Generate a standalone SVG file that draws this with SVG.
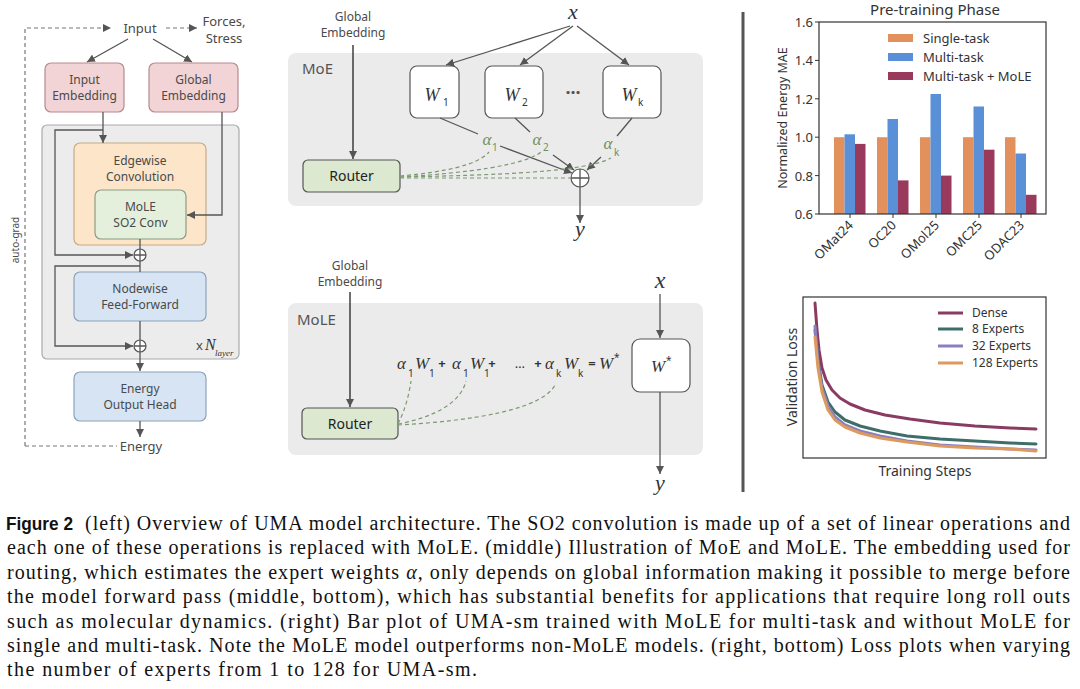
<svg xmlns="http://www.w3.org/2000/svg" width="1080" height="689" viewBox="0 0 1080 689">
<defs>
<marker id="ah" viewBox="0 0 10 10" refX="10" refY="5" markerWidth="8" markerHeight="8" markerUnits="userSpaceOnUse" orient="auto"><path d="M0,0 L10,5 L0,10 z" fill="#555"/></marker>
<style>
.lbl{font-family:"Noto Sans","Open Sans",sans-serif;font-size:12px;fill:#4a4a4a;text-anchor:middle}
.sm{font-family:"Noto Sans","Open Sans",sans-serif;font-size:13px;fill:#4a4a4a;text-anchor:middle}
.ln{fill:none;stroke:#555;stroke-width:1.3}
.ar{fill:none;stroke:#555;stroke-width:1.3;marker-end:url(#ah)}
.dsh{fill:none;stroke:#777;stroke-width:1.2;stroke-dasharray:4 3}
.gd{fill:none;stroke:#7c9a72;stroke-width:1.2;stroke-dasharray:4 3}
.math{font-family:"Liberation Serif",serif;font-style:italic;fill:#333}
.sub{font-family:"Noto Sans","Open Sans",sans-serif;font-size:10px;fill:#333}
.grn{fill:#6f8f5f}
.panel{fill:#ebebeb}
.wbox{fill:#fff;stroke:#555;stroke-width:1.2}
.router{fill:#dce9d0;stroke:#555;stroke-width:1.2}
.rt{font-family:"Noto Sans","Open Sans",sans-serif;font-size:14px;fill:#222;text-anchor:middle}
.ax{font-family:"Noto Sans","Open Sans",sans-serif;font-size:13px;fill:#333}
.cap{font-family:"Liberation Serif",serif;font-size:20px;fill:#111}
.circ{fill:#fff;stroke:#555;stroke-width:1.2}
</style>
</defs>

<!-- LEFT PANEL -->
<g id="left-panel">
  <g id="container"><rect x="42" y="125" width="197" height="234" rx="5" fill="#ececec" stroke="#aaa" stroke-width="1.2"/>
    <text x="196" y="350" class="sm" style="text-anchor:start">x</text>
    <text x="205" y="350" class="math" font-size="16">N</text>
    <text x="215" y="356" class="math" font-size="9">layer</text>
  </g>
  <g id="input"><text x="140" y="33" class="sm">Input</text></g>
  <g id="forces"><text x="224" y="26" class="sm">Forces,</text><text x="224" y="43" class="sm">Stress</text></g>
  <g id="input-embedding"><rect x="45" y="63" width="79" height="49" rx="6" fill="#f2d4d6" stroke="#b58a8e" stroke-width="1.2"/>
    <text x="84.5" y="84" class="lbl">Input</text><text x="84.5" y="100" class="lbl">Embedding</text></g>
  <g id="global-embedding"><rect x="149" y="63" width="89" height="49" rx="6" fill="#f2d4d6" stroke="#b58a8e" stroke-width="1.2"/>
    <text x="193.5" y="84" class="lbl">Global</text><text x="193.5" y="100" class="lbl">Embedding</text></g>
  <g id="edgewise"><rect x="74" y="143" width="132" height="102" rx="6" fill="#fce5c8" stroke="#c9ab86" stroke-width="1.2"/>
    <text x="140" y="165" class="lbl">Edgewise</text><text x="140" y="181" class="lbl">Convolution</text></g>
  <g id="mole-so2"><rect x="95" y="190" width="91" height="49" rx="6" fill="#e4f0dc" stroke="#8c9c84" stroke-width="1.2"/>
    <text x="140.5" y="211" class="lbl">MoLE</text><text x="140.5" y="227" class="lbl">SO2 Conv</text></g>
  <g id="nodewise"><rect x="74" y="272" width="132" height="49" rx="6" fill="#d6e4f3" stroke="#8da2b8" stroke-width="1.2"/>
    <text x="140" y="293" class="lbl">Nodewise</text><text x="140" y="309" class="lbl">Feed-Forward</text></g>
  <g id="energy-head"><rect x="74" y="372" width="132" height="49" rx="6" fill="#d6e4f3" stroke="#8da2b8" stroke-width="1.2"/>
    <text x="140" y="393" class="lbl">Energy</text><text x="140" y="409" class="lbl">Output Head</text></g>
  <g id="energy"><text x="141" y="451" class="sm">Energy</text></g>
  <g id="autograd"><text transform="translate(19,240) rotate(-90)" class="lbl" style="font-size:10px">auto-grad</text></g>
  <g id="sum1"><circle cx="140" cy="255" r="6" class="circ"/><path d="M134,255 H146 M140,249 V261" class="ln"/></g>
  <g id="sum2"><circle cx="140" cy="346" r="6" class="circ"/><path d="M134,346 H146 M140,340 V352" class="ln"/></g>
</g>

<g id="left-connectors">
  <path d="M25,446 V28 H111" class="dsh" marker-end="url(#ah)"/>
  <path d="M166,28 H197" class="dsh" marker-end="url(#ah)"/>
  <path d="M25,446 H117" class="dsh"/>
  <path d="M128,39 L87,62" class="ar"/>
  <path d="M153,39 L192,62" class="ar"/>
  <path d="M103,112 V143" class="ar"/>
  <path d="M103,130 H55 V255 H133" class="ar"/>
  <path d="M222,112 V215 H187" class="ar"/>
  <path d="M140,239 V249" class="ln"/>
  <path d="M140,261 V272" class="ln"/>
  <path d="M140,266 H55 V346 H133" class="ar"/>
  <path d="M140,321 V340" class="ln"/>
  <path d="M140,352 V371" class="ar"/>
  <path d="M140,421 V437" class="ar"/>
</g>

<!-- MIDDLE TOP: MoE -->
<g id="moe-panel"><rect x="288" y="53" width="415" height="153" rx="8" class="panel"/>
  <text x="302" y="74" style="font-family:'Noto Sans','Open Sans',sans-serif;font-size:15px;fill:#555">MoE</text></g>
<g id="moe-global"><text x="353" y="21" class="lbl">Global</text><text x="353" y="37" class="lbl">Embedding</text></g>
<g id="moe-router"><rect x="303" y="160" width="97" height="32" rx="5" class="router"/><text x="351.5" y="181" class="rt">Router</text></g>
<g id="moe-x"><text x="573" y="19" class="math" font-size="22" text-anchor="middle">x</text></g>
<g id="w1"><rect x="410" y="66" width="49" height="52" rx="7" class="wbox"/><text x="432" y="101" class="math" font-size="18" text-anchor="middle">W</text><text x="443" y="106" class="sub">1</text></g>
<g id="w2"><rect x="485" y="66" width="58" height="52" rx="7" class="wbox"/><text x="512" y="101" class="math" font-size="18" text-anchor="middle">W</text><text x="522" y="106" class="sub">2</text></g>
<g id="dots"><text x="573" y="99" style="font-family:'Noto Sans',sans-serif;font-size:18px;font-weight:bold;fill:#555;text-anchor:middle">···</text></g>
<g id="wk"><rect x="603" y="66" width="58" height="52" rx="7" class="wbox"/><text x="629" y="101" class="math" font-size="18" text-anchor="middle">W</text><text x="638" y="106" class="sub">k</text></g>
<g id="moe-sum"><circle cx="580" cy="178" r="9" class="circ"/><path d="M571,178 H589 M580,169 V187" class="ln"/></g>
<g id="moe-y"><text x="580" y="236" class="math" font-size="22" text-anchor="middle">y</text></g>
<g id="alphas">
  <text x="487" y="145" class="math grn" font-size="17" text-anchor="middle">α</text><text x="492" y="151" class="sub grn">1</text>
  <text x="537" y="145" class="math grn" font-size="17" text-anchor="middle">α</text><text x="543" y="151" class="sub grn">2</text>
  <text x="608" y="149" class="math grn" font-size="17" text-anchor="middle">α</text><text x="614" y="156" class="sub grn">k</text>
</g>
<g id="moe-connectors">
  <path d="M353,45 V159" class="ar" style="stroke:#222"/>
  <path d="M570,26 L446,65" class="ar"/>
  <path d="M573,26 L520,65" class="ar"/>
  <path d="M577,26 L629,65" class="ar"/>
  <path d="M440,118 L478,134" class="ln"/>
  <path d="M500,146 L572,173" class="ar"/>
  <path d="M515,118 L530,132" class="ln"/>
  <path d="M553,155 L574,170" class="ar"/>
  <path d="M632,118 L617,136" class="ln"/>
  <path d="M601,157 L587,170" class="ar"/>
  <path d="M400,176 C445,172 478,165 489,152" class="gd"/>
  <path d="M400,177 C468,173 525,165 541,152" class="gd"/>
  <path d="M400,177 C500,175 585,172 611,158" class="gd"/>
  <path d="M400,178 L570,178" class="gd"/>
  <path d="M580,187 V223" class="ar"/>
</g>

<!-- MIDDLE BOTTOM: MoLE -->
<g id="mole-panel"><rect x="288" y="303" width="415" height="152" rx="8" class="panel"/>
  <text x="297" y="325" style="font-family:'Noto Sans','Open Sans',sans-serif;font-size:15px;fill:#555">MoLE</text></g>
<g id="mole-global"><text x="350" y="270" class="lbl">Global</text><text x="350" y="286" class="lbl">Embedding</text></g>
<g id="mole-router"><rect x="302" y="408" width="96" height="31" rx="5" class="router"/><text x="350" y="429" class="rt">Router</text></g>
<g id="formula">
  <text x="397" y="369" class="math" font-size="17">α</text><text x="408" y="377" class="sub">1</text>
  <text x="415" y="369" class="math" font-size="17">W</text><text x="429" y="377" class="sub">1</text>
  <text x="442" y="368" class="sm" style="fill:#333;font-weight:bold">+</text>
  <text x="452" y="369" class="math" font-size="17">α</text><text x="463" y="377" class="sub">1</text>
  <text x="470" y="369" class="math" font-size="17">W</text><text x="484" y="377" class="sub">1</text>
  <text x="492" y="368" class="sm" style="fill:#333;font-weight:bold">+</text>
  <text x="520" y="368" class="sm" style="fill:#333">…</text>
  <text x="538" y="368" class="sm" style="fill:#333;font-weight:bold">+</text>
  <text x="545" y="369" class="math" font-size="17">α</text><text x="556" y="377" class="sub">k</text>
  <text x="564" y="369" class="math" font-size="17">W</text><text x="578" y="377" class="sub">k</text>
  <text x="592" y="368" class="sm" style="fill:#333;font-weight:bold">=</text>
  <text x="599" y="369" class="math" font-size="17">W</text><text x="614" y="361" class="sub">*</text>
</g>
<g id="wstar"><rect x="632" y="339" width="58" height="53" rx="8" class="wbox"/><text x="658" y="372" class="math" font-size="17" text-anchor="middle">W</text><text x="666" y="364" class="sub">*</text></g>
<g id="mole-x"><text x="660" y="288" class="math" font-size="24" text-anchor="middle">x</text></g>
<g id="mole-y"><text x="660" y="490" class="math" font-size="22" text-anchor="middle">y</text></g>
<g id="mole-connectors">
  <path d="M350,292 V407" class="ar" style="stroke:#222"/>
  <path d="M660,294 V338" class="ar"/>
  <path d="M660,392 V474" class="ar"/>
  <path d="M398,424 C405,410 409,395 411,381" class="gd"/>
  <path d="M398,424 C430,418 460,405 466,381" class="gd"/>
  <path d="M398,425 C470,421 545,410 556,383" class="gd"/>
</g>

<!-- separator -->
<g id="separator"><line x1="743" y1="12" x2="743" y2="492" stroke="#555" stroke-width="3"/></g>

<!-- BAR CHART -->
<g id="bar-chart">
  <text x="935" y="15" class="ax" style="font-size:15px;text-anchor:middle">Pre-training Phase</text>
  <g id="bars">
    <rect x="834" y="137.2" width="10.5" height="76.8" fill="#e3915c"/>
    <rect x="844.5" y="134.3" width="10.5" height="79.7" fill="#5a90d8"/>
    <rect x="855" y="143.9" width="10.5" height="70.1" fill="#993a5c"/>
    <rect x="877" y="137.2" width="10.5" height="76.8" fill="#e3915c"/>
    <rect x="887.5" y="119" width="10.5" height="95" fill="#5a90d8"/>
    <rect x="898" y="180.4" width="10.5" height="33.6" fill="#993a5c"/>
    <rect x="920" y="137.2" width="10.5" height="76.8" fill="#e3915c"/>
    <rect x="930.5" y="94" width="10.5" height="120" fill="#5a90d8"/>
    <rect x="941" y="175.6" width="10.5" height="38.4" fill="#993a5c"/>
    <rect x="963" y="137.2" width="10.5" height="76.8" fill="#e3915c"/>
    <rect x="973.5" y="106.5" width="10.5" height="107.5" fill="#5a90d8"/>
    <rect x="984" y="149.7" width="10.5" height="64.3" fill="#993a5c"/>
    <rect x="1005" y="137.2" width="10.5" height="76.8" fill="#e3915c"/>
    <rect x="1015.5" y="153.5" width="10.5" height="60.5" fill="#5a90d8"/>
    <rect x="1026" y="194.8" width="10.5" height="19.2" fill="#993a5c"/>
  </g>
  <rect x="819" y="22" width="227" height="192" fill="none" stroke="#333" stroke-width="1.2"/>
  <path d="M815,22 H819 M815,60.4 H819 M815,98.8 H819 M815,137.2 H819 M815,175.6 H819 M815,214 H819 M850,214 V218 M893,214 V218 M936,214 V218 M979,214 V218 M1021,214 V218" stroke="#333" stroke-width="1"/>
  <g class="ax" style="text-anchor:end">
    <text x="813" y="27">1.6</text><text x="813" y="65">1.4</text><text x="813" y="104">1.2</text>
    <text x="813" y="142">1.0</text><text x="813" y="181">0.8</text><text x="813" y="219">0.6</text>
  </g>
  <text transform="translate(787,118) rotate(-90)" class="ax" style="font-size:12.5px;text-anchor:middle">Normalized Energy MAE</text>
  <g class="ax" style="text-anchor:end">
    <text transform="translate(854,226) rotate(-45)">OMat24</text>
    <text transform="translate(897,226) rotate(-45)">OC20</text>
    <text transform="translate(940,226) rotate(-45)">OMol25</text>
    <text transform="translate(983,226) rotate(-45)">OMC25</text>
    <text transform="translate(1025,226) rotate(-45)">ODAC23</text>
  </g>
  <g id="bar-legend">
    <rect x="888" y="34" width="25" height="8" fill="#e3915c"/><text x="923" y="43" class="ax">Single-task</text>
    <rect x="888" y="53" width="25" height="8" fill="#5a90d8"/><text x="923" y="62" class="ax">Multi-task</text>
    <rect x="888" y="72" width="25" height="8" fill="#993a5c"/><text x="923" y="81" class="ax">Multi-task + MoLE</text>
  </g>
</g>

<!-- LINE CHART -->
<g id="line-chart">
  <g fill="none" stroke-width="3" stroke-linejoin="round" stroke-linecap="round">
    <polyline stroke="#8a3b62" points="815,303 817,330 819,350 822,368 826,380 832,390 840,398 850,404 865,410 885,415 910,419 940,423 975,426 1010,428 1036,429"/>
    <polyline stroke="#3e6e6a" points="815,330 818,360 822,385 828,402 835,412 845,420 860,426 880,431 907,436 940,439 975,441 1010,443 1036,444"/>
    <polyline stroke="#8b7fc0" points="815,326 818,362 822,388 828,406 835,417 845,425 860,431 880,436 907,441 940,445 975,447 1010,449 1036,450"/>
    <polyline stroke="#dd9a5e" points="815,337 818,368 822,392 828,410 835,420 845,427 860,433 880,438 907,442 940,446 975,448 1010,449 1036,451"/>
  </g>
  <rect x="803" y="297" width="243" height="161" fill="none" stroke="#333" stroke-width="1.2"/>
  <text transform="translate(797,377) rotate(-90)" class="ax" style="font-size:14px;text-anchor:middle">Validation Loss</text>
  <text x="925" y="476" class="ax" style="font-size:14px;text-anchor:middle">Training Steps</text>
  <g id="line-legend" stroke-width="3">
    <line x1="938" y1="313" x2="963" y2="313" stroke="#8a3b62"/><text x="972" y="317" class="ax" style="font-size:12px">Dense</text>
    <line x1="938" y1="329" x2="963" y2="329" stroke="#3e6e6a"/><text x="972" y="333" class="ax" style="font-size:12px">8 Experts</text>
    <line x1="938" y1="346" x2="963" y2="346" stroke="#8b7fc0"/><text x="972" y="350" class="ax" style="font-size:12px">32 Experts</text>
    <line x1="938" y1="363" x2="963" y2="363" stroke="#dd9a5e"/><text x="972" y="367" class="ax" style="font-size:12px">128 Experts</text>
  </g>
</g>

<!-- CAPTION -->
<g id="caption">
  <text x="6" y="530" style="font-family:'Liberation Sans',sans-serif;font-weight:bold;font-size:17.5px;fill:#111" textLength="67" lengthAdjust="spacingAndGlyphs">Figure 2</text>
  <text x="85" y="530" class="cap" textLength="985" lengthAdjust="spacing">(left) Overview of UMA model architecture. The SO2 convolution is made up of a set of linear operations and</text>
  <text x="7" y="554" class="cap" textLength="1063" lengthAdjust="spacing">each one of these operations is replaced with MoLE. (middle) Illustration of MoE and MoLE. The embedding used for</text>
  <text x="7" y="579" class="cap" textLength="1063" lengthAdjust="spacing">routing, which estimates the expert weights <tspan font-style="italic">α</tspan>, only depends on global information making it possible to merge before</text>
  <text x="7" y="603" class="cap" textLength="1063" lengthAdjust="spacing">the model forward pass (middle, bottom), which has substantial benefits for applications that require long roll outs</text>
  <text x="7" y="628" class="cap" textLength="1063" lengthAdjust="spacing">such as molecular dynamics. (right) Bar plot of UMA-sm trained with MoLE for multi-task and without MoLE for</text>
  <text x="7" y="652" class="cap" textLength="1063" lengthAdjust="spacing">single and multi-task. Note the MoLE model outperforms non-MoLE models. (right, bottom) Loss plots when varying</text>
  <text x="7" y="676" class="cap" textLength="470" lengthAdjust="spacing">the number of experts from 1 to 128 for UMA-sm.</text>
</g>
</svg>
